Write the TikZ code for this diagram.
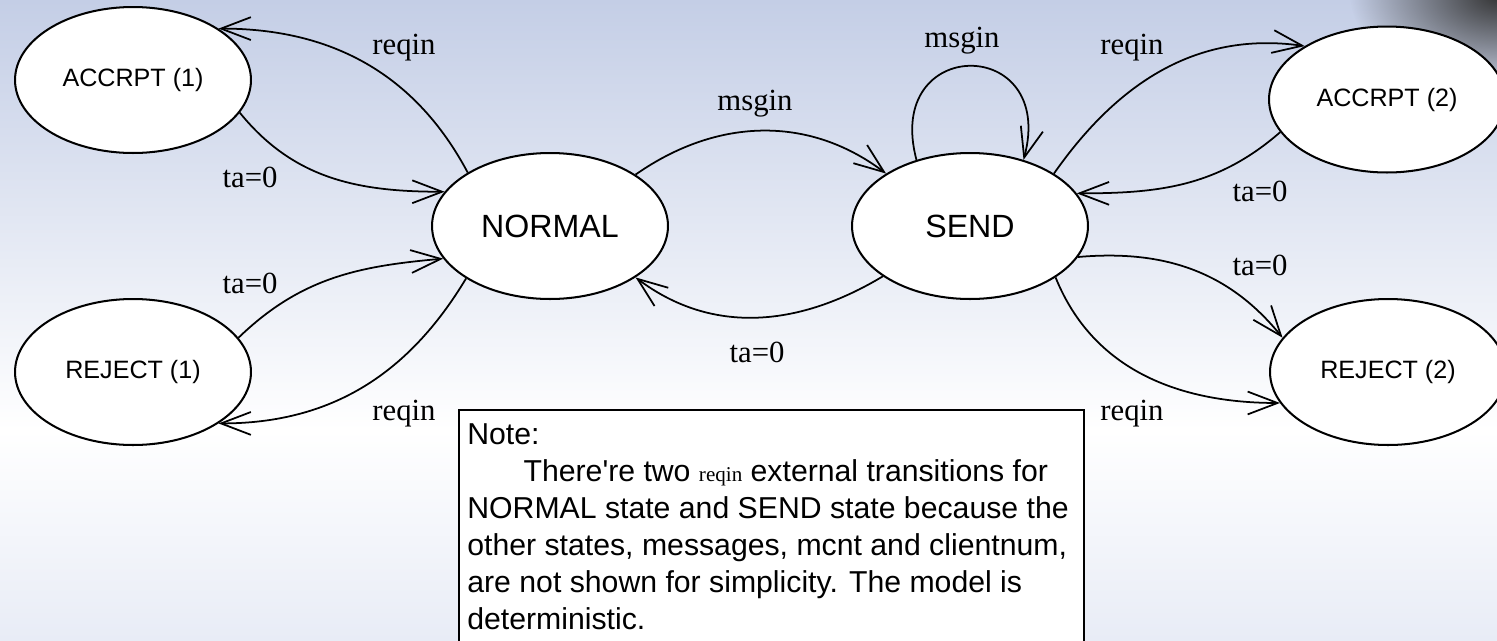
\documentclass[tikz,border=0pt]{standalone}
\usepackage{fontspec}
\setmainfont{Liberation Serif}
\setsansfont{Liberation Sans}
\newfontfamily\lblfont{Liberation Serif}
\newfontfamily\txtfont{Liberation Sans}
\usetikzlibrary{shapes.geometric,arrows.meta,fadings}
\definecolor{bgtop}{RGB}{196,206,230}
\definecolor{bgbot}{RGB}{232,236,246}
\tikzfading[name=cornerfade, inner color=transparent!0, outer color=transparent!100]
\begin{document}
\begin{tikzpicture}[x=0.02cm,y=-0.02cm,
  state/.style={ellipse, draw, line width=1.15pt, fill=white, minimum width=4.72cm, minimum height=2.92cm, inner sep=0pt, font=\txtfont\fontsize{14.3}{16}\selectfont},
  bigstate/.style={state, font=\txtfont\fontsize{18.3}{20}\selectfont},
  trans/.style={line width=1pt, -{Straight Barb[length=17pt,width=13pt]}},
  lbl/.style={inner sep=0pt, font=\lblfont\fontsize{17.5}{19}\selectfont}]
\useasboundingbox (0,0) rectangle (1497,640);
\begin{scope}
\clip (0,0) rectangle (1497,640);
\shade[top color=bgtop, bottom color=white] (0,0) rectangle (1497,430);
\shade[top color=white, bottom color=bgbot] (0,430) rectangle (1497,640);
\fill[black!80, path fading=cornerfade] (1500,-5) ellipse (150 and 95);
\end{scope}

% states
\node[state] (A1) at (133,80) {ACCRPT (1)};
\node[state] (R1) at (133,372) {REJECT (1)};
\node[bigstate] (N) at (550,226) {NORMAL};
\node[bigstate] (S) at (970,226) {SEND};
\node[state] (A2) at (1387,99.5) {ACCRPT (2)};
\node[state] (R2) at (1388,372) {REJECT (2)};

% transitions
\draw[trans] (N.147.4) to[out=118,in=0] (A1.31.3);
\draw[trans] (A1.-17.4) to[out=-51,in=180] (N.162.2);
\draw[trans] (R1.18.3) to[out=44,in=185] (N.197.3);
\draw[trans] (N.212) to[out=239,in=0] (R1.-31.3);
\draw[trans] (N.31.6) to[out=35,in=143] (S.148);
\draw[trans] (S.210.4) to[out=211,in=-37] (N.-31.5);
\draw[trans] (S.129.8) to[out=105,in=75,looseness=3.1] (S.51.8);
\draw[trans] (S.32.6) to[out=55,in=172] (A2.147.8);
\draw[trans] (A2.197.4) to[out=221,in=0] (S.17.3);
\draw[trans] (S.-16.3) to[out=5,in=129] (R2.162.2);
\draw[trans] (S.-31.6) to[out=-68,in=180] (R2.196.8);

% labels
\node[lbl] (l1) at (404,48) {reqin};
\node[lbl] (l2) at (250,177) {ta=0};
\node[lbl] (l3) at (250,283) {ta=0};
\node[lbl] (l4) at (404,414) {reqin};
\node[lbl] (l5) at (755,104) {msgin};
\node[lbl] (l6) at (757,352) {ta=0};
\node[lbl] (l7) at (962,41) {msgin};
\node[lbl] (l8) at (1132,48) {reqin};
\node[lbl] (l9) at (1260,191) {ta=0};
\node[lbl] (l10) at (1260,265) {ta=0};
\node[lbl] (l11) at (1132,414) {reqin};

% note
\node[draw, line width=1.2pt, fill=white, anchor=north west, minimum width=12.5cm, minimum height=6cm, inner sep=0pt] (notebox) at (458,409) {};
\node[anchor=north west, inner sep=0pt, align=left, font=\txtfont\fontsize{17.2}{21}\selectfont] (notetext) at (467,423.5)
 {Note:\\\hspace*{32pt}There're two {\lblfont\fontsize{12}{12}\selectfont reqin} external transitions for\\NORMAL state and SEND state because the\\other states, messages, mcnt and clientnum,\\are not shown for simplicity. The model is\\deterministic.};
\end{tikzpicture}
\end{document}
